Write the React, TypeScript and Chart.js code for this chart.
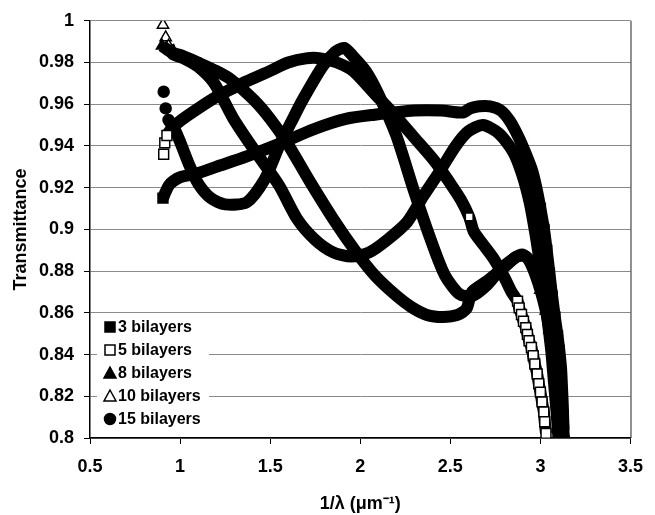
import React, { useEffect, useRef } from "react";
import { Chart, registerables } from "chart.js";

Chart.register(...registerables);

type Pt = [number, number];

const seriesNames = ["3 bilayers", "5 bilayers", "8 bilayers", "10 bilayers", "15 bilayers"];
const xTickValues = [0.5, 1, 1.5, 2, 2.5, 3, 3.5];
const yTickValues = [0.8, 0.82, 0.84, 0.86, 0.88, 0.9, 0.92, 0.94, 0.96, 0.98, 1];
const xTitle = "1/\u03bb (\u03bcm\u207b\u00b9)";
const yTitle = "Transmittance";

const bilayers3: Pt[] = [
  [0.905, 0.915], [0.92, 0.918], [0.937, 0.921], [0.96, 0.923], [1.0, 0.925], [1.1, 0.927],
  [1.2, 0.93], [1.37, 0.935], [1.55, 0.941], [1.74, 0.948], [1.92, 0.953], [2.08, 0.955],
  [2.3, 0.957], [2.45, 0.957], [2.57, 0.956], [2.61, 0.958], [2.66, 0.959], [2.72, 0.959],
  [2.78, 0.957], [2.83, 0.952], [2.88, 0.944], [2.92, 0.936], [2.955, 0.928], [2.98, 0.919],
  [3.0, 0.91], [3.02, 0.9], [3.035, 0.89], [3.05, 0.879], [3.065, 0.868], [3.08, 0.858],
  [3.095, 0.849], [3.105, 0.842], [3.115, 0.833], [3.12, 0.824], [3.125, 0.814], [3.128, 0.804],
];

const bilayers5: Pt[] = [
  [0.909, 0.936], [0.915, 0.9415], [0.927, 0.945], [0.95, 0.948], [1.0, 0.952], [1.1, 0.958],
  [1.2, 0.9635], [1.3, 0.968], [1.37, 0.971], [1.5, 0.976], [1.6, 0.98], [1.7, 0.982],
  [1.78, 0.982], [1.87, 0.98], [1.96, 0.976], [2.08, 0.965], [2.19, 0.955], [2.3, 0.944],
  [2.41, 0.933], [2.5, 0.922], [2.56, 0.914], [2.605, 0.906], [2.63, 0.899], [2.68, 0.893],
  [2.74, 0.886], [2.8, 0.877], [2.84, 0.87], [2.873, 0.8656], [2.882, 0.8624], [2.895, 0.8592],
  [2.906, 0.856], [2.919, 0.8529], [2.928, 0.8497], [2.937, 0.8466], [2.95, 0.8434], [2.96, 0.8394],
  [2.969, 0.8355], [2.982, 0.8307], [2.991, 0.826], [3.0, 0.822], [3.009, 0.8173], [3.019, 0.8125],
  [3.024, 0.8078], [3.031, 0.8022],
];

const bilayers8: Pt[] = [
  [0.9, 0.988], [0.95, 0.985], [1.02, 0.983], [1.1, 0.98], [1.2, 0.976], [1.28, 0.972],
  [1.41, 0.962], [1.5, 0.953], [1.59, 0.942], [1.72, 0.923], [1.85, 0.905], [1.97, 0.89],
  [2.08, 0.878], [2.19, 0.869], [2.28, 0.863], [2.37, 0.859], [2.46, 0.858], [2.54, 0.859],
  [2.59, 0.862], [2.62, 0.87], [2.7, 0.875], [2.8, 0.882], [2.87, 0.887], [2.92, 0.887],
  [2.96, 0.881], [3.0, 0.871], [3.03, 0.861], [3.05, 0.852], [3.065, 0.844], [3.08, 0.836],
  [3.09, 0.828], [3.1, 0.82], [3.108, 0.813], [3.115, 0.806], [3.12, 0.8],
];

const bilayers10: Pt[] = [
  [0.905, 0.998], [0.92, 0.992], [0.936, 0.988], [0.96, 0.984], [1.02, 0.982], [1.1, 0.978],
  [1.19, 0.97], [1.3, 0.9525], [1.42, 0.937], [1.55, 0.921], [1.65, 0.905], [1.75, 0.895],
  [1.85, 0.889], [1.95, 0.887], [2.05, 0.889], [2.15, 0.895], [2.26, 0.9035], [2.35, 0.916],
  [2.45, 0.929], [2.53, 0.94], [2.6, 0.947], [2.68, 0.95], [2.77, 0.946], [2.85, 0.937],
  [2.9, 0.926], [2.94, 0.913], [2.97, 0.899], [2.99, 0.888], [3.01, 0.876], [3.03, 0.864],
  [3.045, 0.853], [3.06, 0.842], [3.07, 0.832], [3.08, 0.822], [3.09, 0.812], [3.1, 0.8],
];

const bilayers15: Pt[] = [
  [0.909, 0.966], [0.92, 0.958], [0.936, 0.9525], [0.97, 0.948], [1.0, 0.942], [1.05, 0.931],
  [1.1, 0.922], [1.17, 0.915], [1.25, 0.912], [1.37, 0.913], [1.47, 0.924], [1.55, 0.94],
  [1.62, 0.952], [1.68, 0.962], [1.79, 0.978], [1.86, 0.985], [1.91, 0.987], [1.96, 0.983],
  [2.03, 0.976], [2.1, 0.965], [2.2, 0.945], [2.3, 0.918], [2.4, 0.893], [2.47, 0.878],
  [2.55, 0.869], [2.62, 0.868], [2.7, 0.873], [2.78, 0.881], [2.85, 0.886], [2.9, 0.888],
  [2.96, 0.883], [3.0, 0.874], [3.03, 0.864], [3.055, 0.853], [3.075, 0.843], [3.09, 0.834],
  [3.105, 0.825], [3.115, 0.816], [3.125, 0.808], [3.13, 0.8],
];

const seriesData = [bilayers3, bilayers5, bilayers8, bilayers10, bilayers15];

// styling (not data)
const seriesStyles = [
  { shape: "rect", radius: 7, open: false, gapBefore: 0, markBefore: 0.906, markAfter: 3.0, markEnd: 3.11, markOne: -1 },
  { shape: "rect", radius: 7, open: true, gapBefore: 0.927, markBefore: 0.93, markAfter: 2.86, markEnd: 9, markOne: 2.605 },
  { shape: "triangle", radius: 6.5, open: false, gapBefore: 0, markBefore: 0.901, markAfter: 3.0, markEnd: 9, markOne: -1 },
  { shape: "triangle", radius: 6.5, open: true, gapBefore: 0.936, markBefore: 0.94, markAfter: 9, markEnd: 9, markOne: -1 },
  { shape: "circle", radius: 5.5, open: false, gapBefore: 0.936, markBefore: 0.94, markAfter: 3.11, markEnd: 9, markOne: -1 },
];

const FONT = '"Liberation Sans", Arial, sans-serif';

function drawMarker(ctx: CanvasRenderingContext2D, shape: string, open: boolean, cx: number, cy: number) {
  ctx.beginPath();
  if (shape === "rect") {
    ctx.rect(cx - 5, cy - 5, 10, 10);
  } else if (shape === "triangle") {
    ctx.moveTo(cx, cy - 6);
    ctx.lineTo(cx + 6, cy + 5);
    ctx.lineTo(cx - 6, cy + 5);
    ctx.closePath();
  } else {
    ctx.arc(cx, cy, 5.5, 0, Math.PI * 2);
  }
  ctx.fillStyle = open ? "#fff" : "#000";
  ctx.fill();
  ctx.lineWidth = 1.5;
  ctx.strokeStyle = "#000";
  ctx.stroke();
}

const insideLegend = {
  id: "insideLegend",
  afterDatasetsDraw(chart: any) {
    const { ctx, chartArea } = chart;
    ctx.save();
    ctx.fillStyle = "#fff";
    ctx.fillRect(chartArea.left + 7, chartArea.bottom - 124, 112, 118);
    const n = seriesNames.length;
    seriesNames.forEach((name, i) => {
      const cy = chartArea.bottom - 19 - (n - 1 - i) * 23;
      const st = seriesStyles[i];
      drawMarker(ctx, st.shape, st.open, chartArea.left + 20, cy);
      ctx.fillStyle = "#000";
      ctx.font = `bold 16px ${FONT}`;
      ctx.textBaseline = "middle";
      ctx.textAlign = "left";
      ctx.fillText(name, chartArea.left + 28, cy + 1);
    });
    ctx.restore();
  },
};

const frame = {
  id: "frame",
  afterDraw(chart: any) {
    const { ctx, chartArea } = chart;
    ctx.save();
    ctx.strokeStyle = "#222";
    ctx.lineWidth = 1;
    ctx.beginPath();
    ctx.moveTo(chartArea.right + 0.5, chartArea.top);
    ctx.lineTo(chartArea.right + 0.5, chartArea.bottom);
    ctx.stroke();
    ctx.restore();
  },
};

export default function App() {
  const ref = useRef<HTMLCanvasElement>(null);

  useEffect(() => {
    const datasets = seriesData.map((pts, i) => {
      const st = seriesStyles[i];
      const showMark = (x: number) =>
        x <= st.markBefore || (x >= st.markAfter && x <= st.markEnd) || x === st.markOne;
      return {
        label: seriesNames[i],
        data: pts.map(([x, y]) => ({ x, y })),
        showLine: true,
        borderColor: "#000",
        borderWidth: 12,
        borderJoinStyle: "round" as const,
        borderCapStyle: "butt" as const,
        tension: 0.25,
        segment: {
          borderColor: (c: any) => (c.p0.parsed.x < st.gapBefore ? "rgba(0,0,0,0)" : "#000"),
        },
        pointStyle: st.shape,
        pointRadius: (c: any) => {
          const x = c.raw ? c.raw.x : 0;
          return showMark(x) ? (x === st.markOne ? 5.5 : st.radius) : 0;
        },
        pointBackgroundColor: st.open ? "#fff" : "#000",
        pointBorderColor: "#000",
        pointBorderWidth: 1.5,
      };
    });

    const chart = new Chart(ref.current!, {
      type: "scatter",
      data: { datasets: datasets as any },
      options: {
        responsive: false,
        animation: false,
        devicePixelRatio: 1,
        events: [],
        layout: { padding: { top: 17, right: 15, left: 0, bottom: 0 } },
        plugins: { legend: { display: false }, tooltip: { enabled: false } },
        scales: {
          x: {
            type: "linear",
            min: 0.5,
            max: 3.5,
            afterBuildTicks: (s: any) => {
              s.ticks = xTickValues.map((v) => ({ value: v }));
            },
            afterFit: (s: any) => {
              s.height = 77;
            },
            grid: { drawOnChartArea: false, drawTicks: true, tickLength: 6, tickColor: "#000" },
            border: { color: "#000", width: 1.5 },
            ticks: {
              color: "#000",
              padding: 12,
              maxRotation: 0,
              font: { family: FONT, size: 18, weight: "bold" },
              callback: (v: any) => String(v),
            },
            title: {
              display: true,
              text: xTitle,
              color: "#000",
              font: { family: FONT, size: 18, weight: "bold" },
              padding: { top: 0, bottom: 0 },
            },
          },
          y: {
            type: "linear",
            min: 0.8,
            max: 1,
            afterBuildTicks: (s: any) => {
              s.ticks = yTickValues.map((v) => ({ value: v }));
            },
            afterFit: (s: any) => {
              s.width = 90;
            },
            grid: { color: "#8a8a8a", lineWidth: 1, drawTicks: true, tickLength: 6, tickColor: "#000" },
            border: { color: "#000", width: 1.5 },
            ticks: {
              color: "#000",
              padding: 10,
              font: { family: FONT, size: 18, weight: "bold" },
              callback: (v: any) => String(Number(Number(v).toFixed(2))),
            },
            title: {
              display: true,
              text: yTitle,
              color: "#000",
              font: { family: FONT, size: 18, weight: "bold" },
              padding: { top: 10, bottom: 0 },
            },
          },
        },
      },
      plugins: [insideLegend, frame],
    });
    return () => chart.destroy();
  }, []);

  return (
    <div style={{ position: "fixed", left: 0, top: 0, width: 655, height: 515, background: "#fff" }}>
      <canvas ref={ref} width={655} height={515} style={{ display: "block" }} />
    </div>
  );
}
